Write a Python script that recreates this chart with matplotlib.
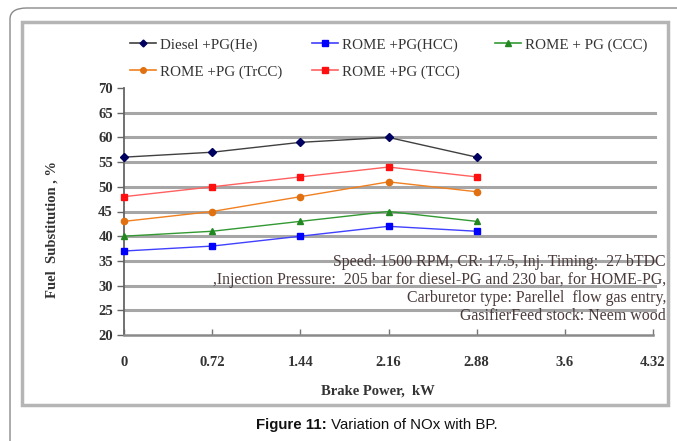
import matplotlib.pyplot as plt
from matplotlib.patches import FancyBboxPatch, Rectangle
from matplotlib.lines import Line2D

# data
bp = [0, 0.72, 1.44, 2.16, 2.88]
diesel_he = [56, 57, 59, 60, 56]
rome_hcc = [37, 38, 40, 42, 41]
rome_ccc = [40, 41, 43, 45, 43]
rome_trcc = [43, 45, 48, 51, 49]
rome_tcc = [48, 50, 52, 54, 52]

xticks = [0, 0.72, 1.44, 2.16, 2.88, 3.6, 4.32]
xticklabels = ["0", "0.72", "1.44", "2.16", "2.88", "3.6", "4.32"]
yticks = [20, 25, 30, 35, 40, 45, 50, 55, 60, 65, 70]

serif = "Liberation Serif"
W, H = 677, 441

fig = plt.figure(figsize=(6.77, 4.41), dpi=100)

# outer rounded page border and inner chart frame
fig.patches.append(FancyBboxPatch((10/W, -0.2), 1.2, 1 - 8/H + 0.2,
                                  boxstyle="round,pad=0,rounding_size=0.025",
                                  transform=fig.transFigure, fill=False,
                                  edgecolor="#8a8a8a", lw=1.0))
fig.patches.append(Rectangle((22/W, 1 - 405/H), (668 - 22)/W, (405 - 22)/H,
                             transform=fig.transFigure, fill=False,
                             edgecolor="#b5b5b5", lw=2.5))

ax = fig.add_axes([124/W, 1 - 335/H, (653 - 124)/W, (335 - 88)/H])
ax.set_xlim(0, 4.32)
ax.set_ylim(20, 70)

for g in yticks[1:-1]:
    ax.axhline(g, color="#a6a6a6", lw=2.2, zorder=1, xmax=1.004, clip_on=False)

series = [
    (diesel_he, "#404040", "#000060", "D", 4, "Diesel +PG(He)"),
    (rome_hcc, "#4040ff", "#0000ff", "s", 5, "ROME +PG(HCC)"),
    (rome_ccc, "#339933", "#228822", "^", 4.5, "ROME + PG (CCC)"),
    (rome_trcc, "#f08020", "#e07010", "o", 4.5, "ROME +PG (TrCC)"),
    (rome_tcc, "#ff6060", "#ff1010", "s", 4.5, "ROME +PG (TCC)"),
]
for ys, lc, mc, mk, ms, lab in series:
    ax.plot(bp, ys, color=lc, lw=1.0, marker=mk, ms=ms, mfc=mc, mec=mc,
            zorder=3, label=lab, clip_on=False)

for s in ["top", "right"]:
    ax.spines[s].set_visible(False)
ax.spines["left"].set_color("#666666")
ax.spines["bottom"].set_color("#8a8a8a")
ax.spines["left"].set_linewidth(1.3)
ax.spines["bottom"].set_linewidth(1.8)

ax.set_xticks(xticks)
ax.set_xticklabels(xticklabels)
ax.set_yticks(yticks)
ax.tick_params(axis="y", direction="out", length=5, width=1, color="#666666", pad=3)
ax.tick_params(axis="x", direction="in", length=4, width=1, color="#777777", pad=15)
for lab in ax.get_xticklabels() + ax.get_yticklabels():
    lab.set_fontfamily(serif)
    lab.set_fontweight("bold")
    lab.set_fontsize(10.5)
    lab.set_color("#333333")

fig.text(52/W, 1 - 230/H, "Fuel  Substitution , %", rotation=90, ha="center",
         va="center", family=serif, fontweight="bold", fontsize=10.5, color="#333333")
fig.text(378/W, 1 - 391/H, "Brake Power,  kW", ha="center", va="center",
         family=serif, fontweight="bold", fontsize=10.5, color="#333333")

note = ("Speed: 1500 RPM, CR: 17.5, Inj. Timing:  27 bTDC\n"
        ",Injection Pressure:  205 bar for diesel-PG and 230 bar, for HOME-PG,\n"
        "Carburetor type: Parellel  flow gas entry,\n"
        "GasifierFeed stock: Neem wood")
fig.text(666/W, 1 - 254/H, note, ha="right", va="top", family=serif,
         fontsize=11.4, color="#4a3a3a", linespacing=1.17, zorder=5)

# legend entries placed one by one, row-wise like the Excel legend
leg_pos = [(130, 45), (312, 45), (495, 45), (130, 72), (312, 72)]
leg_order = [0, 1, 2, 3, 4]
for (px, py), i in zip(leg_pos, leg_order):
    _, lc, mc, mk, ms, lab = series[i]
    h = Line2D([], [], color=lc, lw=1.2, marker=mk, ms=ms - 0.5, mfc=mc, mec=mc)
    lg = fig.legend([h], [lab], loc="center left", bbox_to_anchor=(px/W, 1 - py/H),
                    frameon=False, borderpad=0, borderaxespad=0,
                    prop={"family": serif, "size": 10.8}, handlelength=1.75,
                    handletextpad=0.25)
    lg.get_texts()[0].set_color("#333333")

# caption: bold "Figure 11:" followed by regular text, centred together
renderer = fig.canvas.get_renderer()
cap_y = 1 - 425/H
t1 = fig.text(0, cap_y, "Figure 11:", ha="left", va="center", family="Liberation Sans",
              fontweight="bold", fontsize=10.8, color="#111111")
t2 = fig.text(0, cap_y, " Variation of NOx with BP.", ha="left", va="center",
              family="Liberation Sans", fontsize=10.8, color="#111111")
w1 = t1.get_window_extent(renderer).width
w2 = t2.get_window_extent(renderer).width
x0 = 377 - (w1 + w2) / 2
t1.set_x(x0 / W)
t2.set_x((x0 + w1) / W)

fig.savefig("out.png", dpi=100)
